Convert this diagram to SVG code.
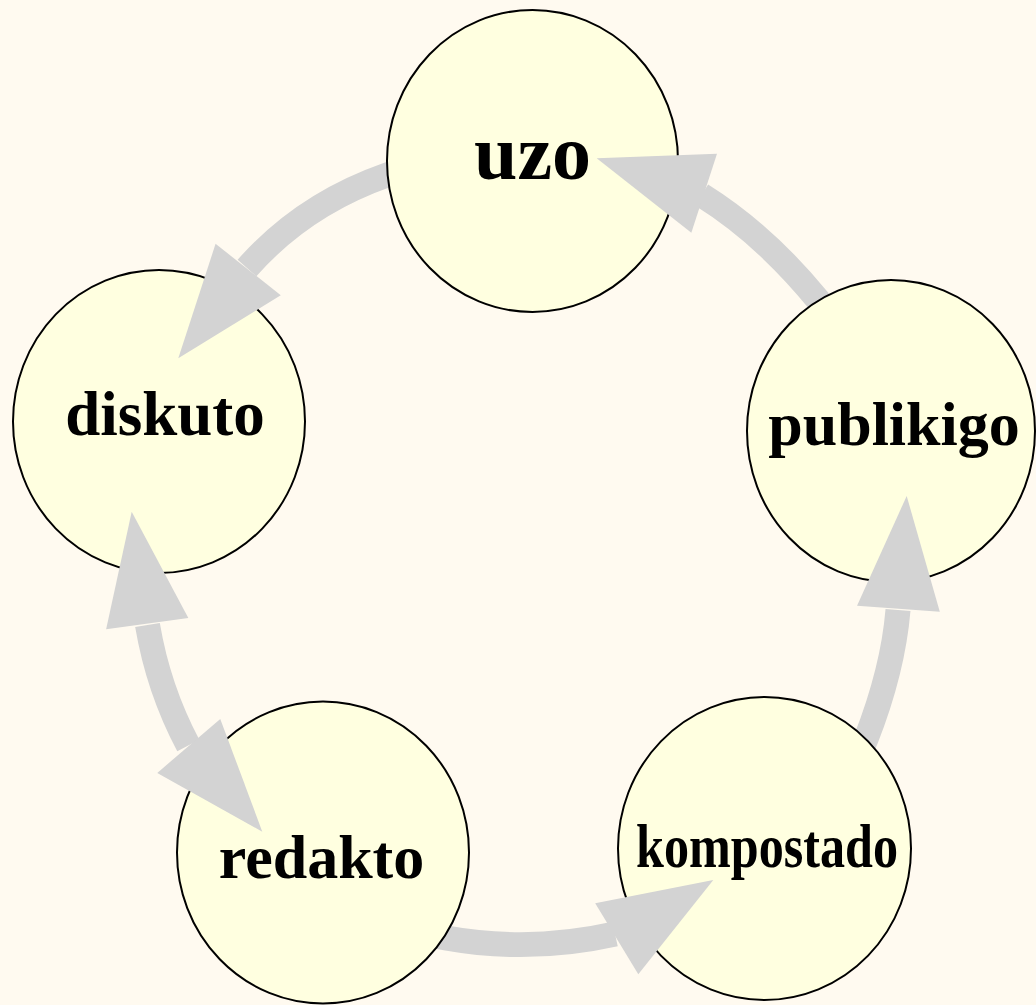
<svg xmlns="http://www.w3.org/2000/svg" xmlns:xlink="http://www.w3.org/1999/xlink" width="1036" height="1005" viewBox="0 0 1036 1005">
<style>
.node { fill: #ffffe0; stroke: #000000; stroke-width: 2; }
.label { font-family: "Liberation Serif", "Times New Roman", serif; font-weight: bold; font-size: 62px; fill: #000000; text-anchor: middle; }
.conn { fill: none; stroke: #d3d3d3; stroke-width: 25; }
.head { fill: #d3d3d3; }
</style>
<defs>
<polygon id="arrowhead" class="head" points="0,0 -113,-41.5 -113,41.5"/>
</defs>
<rect x="0" y="0" width="1036" height="1005" fill="#fffaf0"/>
<g id="connectors">
<path class="conn" d="M 397,171.5 L 387,175 Q 303,204.5 247,268"/>
<path class="conn" d="M 824,308 L 818,300 Q 764,234 701.5,195"/>
<path class="conn" d="M 862,748 L 866,739 Q 893,670 898,610"/>
<path class="conn" d="M 147.5,625 Q 158.3,689 188.3,745.5"/>
<path class="conn" d="M 436,936 L 446,938 Q 530.5,953 615,934"/>
</g>
<g id="node-uzo">
<ellipse class="node" cx="532.5" cy="161" rx="145.5" ry="151"/>
<text class="label" x="532.5" y="179" style="font-size:78px">uzo</text>
</g>
<g id="node-diskuto">
<ellipse class="node" cx="159" cy="421.5" rx="146" ry="151.5"/>
<text class="label" x="165" y="435" style="font-size:63px">diskuto</text>
</g>
<g id="node-publikigo">
<ellipse class="node" cx="891" cy="431" rx="144" ry="151"/>
<text class="label" x="894" y="445">publikigo</text>
</g>
<g id="node-redakto">
<ellipse class="node" cx="323" cy="852.5" rx="146" ry="151"/>
<text class="label" x="321.5" y="878">redakto</text>
</g>
<g id="node-kompostado">
<ellipse class="node" cx="764.5" cy="848.5" rx="146.5" ry="151.5"/>
<text class="label" x="767" y="867" textLength="262" lengthAdjust="spacingAndGlyphs">kompostado</text>
</g>
<g id="arrowheads">
<use xlink:href="#arrowhead" href="#arrowhead" transform="translate(178.3,358.3) rotate(128.2)"/>
<use xlink:href="#arrowhead" href="#arrowhead" transform="translate(596.7,158.3) rotate(-162)"/>
<use xlink:href="#arrowhead" href="#arrowhead" transform="translate(906.7,496) rotate(-85.8)"/>
<use xlink:href="#arrowhead" href="#arrowhead" transform="translate(131.7,511.7) rotate(-97.9)"/>
<use xlink:href="#arrowhead" href="#arrowhead" transform="translate(262.3,831.7) rotate(49.4)"/>
<use xlink:href="#arrowhead" href="#arrowhead" transform="translate(713.3,880) rotate(-31.3)"/>
</g>
</svg>
